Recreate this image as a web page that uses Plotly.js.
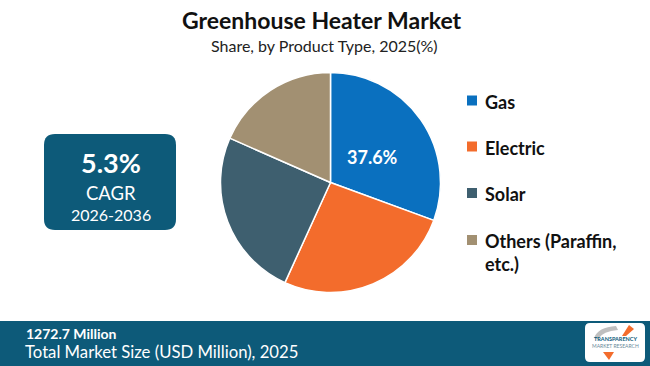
<!DOCTYPE html>
<html><head><meta charset="utf-8">
<script src="https://cdn.plot.ly/plotly-3.0.1.min.js"></script>
<style>html,body{margin:0;padding:0;background:#fff}#chart{width:650px;height:366px}</style>
</head><body><div id="chart"></div>
<script>
const categories = ["Gas", "Electric", "Solar", "Others (Paraffin,<br>etc.)"];
const shares = [30.6, 26.2, 24.8, 18.4];
const sliceLabel = "37.6%";
const colors = ["#0a70bf", "#f36c2c", "#3e5f6f", "#a29072"];
const cagrValue = "5.3%";
const cagrPeriod = "2026-2036";
const marketSize = "1272.7 Million";
const marketLabel = "Total Market Size (USD Million), 2025";

const teal = "#0d5a79";
const F = "Lato, 'Open Sans', sans-serif";

function rrect(x0, y0, x1, y1, r) {
  return `M${x0+r},${y0} L${x1-r},${y0} Q${x1},${y0} ${x1},${y0+r} L${x1},${y1-r} Q${x1},${y1} ${x1-r},${y1} L${x0+r},${y1} Q${x0},${y1} ${x0},${y1-r} L${x0},${y0+r} Q${x0},${y0} ${x0+r},${y0} Z`;
}

const shapes = [
  {type:"path", xref:"x", yref:"y", path: rrect(44,134,176,230,11), fillcolor: teal, line:{width:0}, layer:"below"},
  {type:"rect", xref:"x", yref:"y", x0:0, x1:650, y0:321, y1:366, fillcolor: teal, line:{width:0}, layer:"below"},
  {type:"path", xref:"x", yref:"y", path: rrect(585,323,645,362,5), fillcolor:"#ffffff", line:{width:0}},
  {type:"path", xref:"x", yref:"y", path:"M594,338 Q598,327 616,326 L618,330 Q603,331 598,339 Z", fillcolor:"#bfbfbf", line:{width:0}},
  {type:"path", xref:"x", yref:"y", path:"M622,336 L629,325 L634,329 L626,336 Z", fillcolor:"#f36c2c", line:{width:0}},
  {type:"path", xref:"x", yref:"y", path:"M603,352 L609,360 L614,352 Z", fillcolor:"#f36c2c", line:{width:0}}
];

const annotations = [
  {text:"<b>Greenhouse Heater Market</b>", x:322, y:20, xref:"x", yref:"y", showarrow:false, font:{family:F, size:23, color:"#111"}},
  {text:"Share, by Product Type, 2025(%)", x:324, y:45, xref:"x", yref:"y", showarrow:false, font:{family:F, size:16, color:"#222"}},
  {text:"<b>"+cagrValue+"</b>", x:110.5, y:162, xref:"x", yref:"y", showarrow:false, font:{family:F, size:27, color:"#fff"}},
  {text:"CAGR", x:110.5, y:193, xref:"x", yref:"y", showarrow:false, font:{family:F, size:18.5, color:"#fff"}},
  {text:cagrPeriod, x:110.5, y:214, xref:"x", yref:"y", showarrow:false, font:{family:F, size:16, color:"#fff"}},
  {text:"<b>"+marketSize+"</b>", x:24, y:333, xref:"x", yref:"y", xanchor:"left", showarrow:false, font:{family:F, size:14, color:"#fff"}},
  {text:marketLabel, x:23, y:352, xref:"x", yref:"y", xanchor:"left", showarrow:false, font:{family:F, size:16.7, color:"#fff"}},
  {text:"<b>TRANSPARENCY</b>", x:615, y:339, xref:"x", yref:"y", showarrow:false, font:{family:F, size:5.5, color:"#0d5a79"}},
  {text:"MARKET RESEARCH", x:615, y:346, xref:"x", yref:"y", showarrow:false, font:{family:F, size:5, color:"#6a8a9a"}},
  {text:"<b>"+sliceLabel+"</b>", x:372, y:157, xref:"x", yref:"y", showarrow:false, font:{family:F, size:18, color:"#fff"}}
];

const legendY = [100.5, 146.5, 193, 240];
categories.forEach((c, i) => {
  shapes.push({type:"rect", xref:"x", yref:"y", x0:467, x1:477, y0:legendY[i]-5, y1:legendY[i]+5, fillcolor:colors[i], line:{width:0}});
  annotations.push({text:"<b>"+c+"</b>", x:483, y:legendY[i]-12, xref:"x", yref:"y", xanchor:"left", yanchor:"top", align:"left",
    showarrow:false, font:{family:F, size:18, color:"#111"}});
});

const data = [{
  type:"pie", labels: categories, values: shares,
  marker:{colors: colors, line:{color:"#ffffff", width:1.5}},
  sort:false, direction:"clockwise", rotation:0,
  textinfo:"none",
  hoverinfo:"label+percent", showlegend:false,
  domain:{x:[220.5/650, 440.5/650], y:[1-292.5/366, 1-72.5/366]}
}];

const layout = {
  width:650, height:366, margin:{l:0, r:0, t:0, b:0},
  paper_bgcolor:"#ffffff", plot_bgcolor:"rgba(0,0,0,0)",
  xaxis:{range:[0,650], visible:false, fixedrange:true},
  yaxis:{range:[366,0], visible:false, fixedrange:true},
  showlegend:false, shapes: shapes, annotations: annotations
};
Plotly.newPlot("chart", data, layout, {displayModeBar:false, staticPlot:true});
</script></body></html>
